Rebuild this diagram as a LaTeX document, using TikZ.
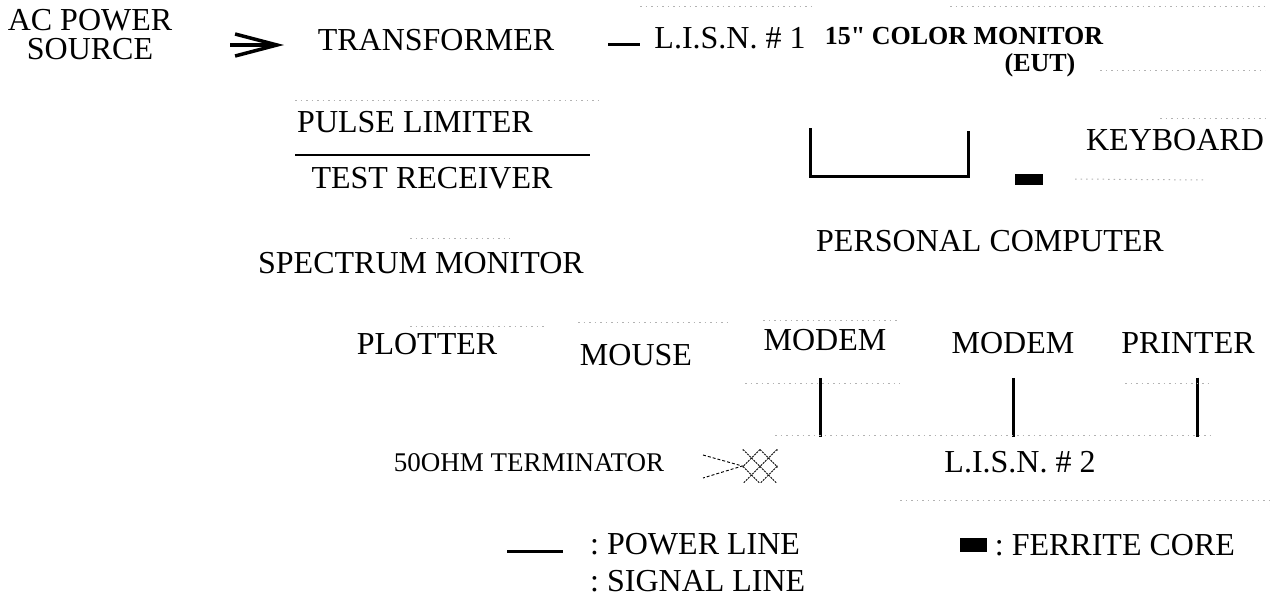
\documentclass[tikz,border=0pt]{standalone}
\usepackage{fontspec}
\setmainfont{Liberation Serif}[Ligatures=TeXOff]
\usetikzlibrary{arrows.meta,positioning}
\frenchspacing

\begin{document}
\begin{tikzpicture}[x=1pt,y=-1pt,
lbl/.style={inner sep=0pt,font=\fontsize{32}{32}\selectfont},
small/.style={inner sep=0pt,font=\fontsize{27}{28}\selectfont},
boldlbl/.style={inner sep=0pt,font=\fontsize{26}{27}\selectfont\bfseries},
power/.style={line width=3pt},
signal/.style={gray!60,line width=1pt,dash pattern=on 1.5pt off 4pt},
arrow/.style={-{Straight Barb[length=42pt,width=22pt]},line width=3.5pt},
ferrite/.style={fill=black,inner sep=0pt,minimum width=28pt,minimum height=11pt}
]
\useasboundingbox (0,0) rectangle (1272,598);
% top row
\node[lbl,align=center] (acsrc) at (90,35) {AC POWER\\[-3pt]SOURCE};
\node[lbl] (xfmr) at (436,40) {TRANSFORMER};
\node[lbl] (lisn1) at (730,38) {L.I.S.N. \# 1};
\node[boldlbl] (eut) at (964,36) {15" COLOR MONITOR};
\node[boldlbl,below=8pt of eut.south,xshift=76pt] (euttag) {(EUT)};
% receiver side
\node[lbl] (limiter) at (415,122) {PULSE LIMITER};
\node[lbl] (rcvr) at (432,178) {TEST RECEIVER};
\node[lbl] (specmon) at (421,263) {SPECTRUM MONITOR};
\node[lbl] (plotter) at (427,344) {PLOTTER};
\node[lbl] (mouse) at (636,355) {MOUSE};
% EUT side
\node[lbl] (kbd) at (1175,140) {KEYBOARD};
\node[ferrite] (core) at (1029,179) {};
\node[lbl] (pc) at (990,241) {PERSONAL COMPUTER};
\node[lbl] (modem1) at (825,340) {MODEM};
\node[lbl] (modem2) at (1013,343) {MODEM};
\node[lbl] (printer) at (1188,343) {PRINTER};
\node[lbl] (lisn2) at (1020,462) {L.I.S.N. \# 2};
% terminator
\node[small] (termlbl) at (529,463) {50OHM TERMINATOR};
\node[inner sep=0pt,minimum width=35pt,minimum height=33pt,
  path picture={
    \foreach \d in {-34,-17,...,34}{
      \draw[line width=0.8pt,dash pattern=on 2pt off 1pt]
        ([xshift=\d pt]path picture bounding box.north) -- ++(34pt,-34pt)
        ([xshift=\d pt]path picture bounding box.north) -- ++(-34pt,-34pt);
    }}] (term) at (760,466) {};
\coordinate (tp1) at (703,455);
\coordinate (tp2) at (703,478);
\draw[line width=0.9pt,dash pattern=on 3pt off 2pt] (tp1) -- (term.west) -- (tp2);
% power connections
\coordinate (a1) at (230,45);
\coordinate (a2) at (284,45);
\draw[arrow] (a1) -- (a2);
\coordinate (p1) at (608,44);
\coordinate (p2) at (640,44);
\draw[power] (p1) -- (p2);
\coordinate (b1) at (810,128);
\coordinate (b2) at (968,131);
\draw[power] (b1) -- (b1 |- 0,176) -- (b2 |- 0,176) -- (b2);
\draw[line width=1.2pt] (295,155) -- (590,155);
\draw[power] (modem1.south -| 820,0) ++(0,27) -- (820,437);
\draw[power] (modem2.south -| 1013,0) ++(0,24) -- (1013,437);
\draw[power] (printer.south -| 1197,0) ++(0,24) -- (1197,437);
% signal lines (faint)
\draw[signal] (640,6) -- (815,6);
\draw[signal] (950,6) -- (1265,6);
\draw[signal] (1100,70) -- (1265,70);
\draw[signal] (1160,118) -- (1265,118);
\draw[signal] (295,100) -- (600,100);
\draw[signal] (core.east) ++(32,0) -- (1205,180);
\draw[signal] (410,238) -- (510,238);
\draw[signal] (410,326) -- (545,326);
\draw[signal] (578,322) -- (730,322);
\draw[signal] (763,320) -- (897,320);
\draw[signal] (745,383) -- (900,383);
\draw[signal] (1125,383) -- (1210,383);
\draw[signal] (775,435) -- (1210,435);
\draw[signal] (900,500) -- (1270,500);
% legend
\coordinate (lg1) at (507,551);
\coordinate (lg2) at (563,551);
\draw[power] (lg1) -- (lg2);
\node[lbl,anchor=west] (lgpower) at (590,544) {: POWER LINE};
\node[lbl,anchor=west] (lgsignal) at (590,581) {: SIGNAL LINE};
\node[ferrite,minimum width=27pt,minimum height=14pt] (lgcore) at (973,545) {};
\node[lbl,right=8pt of lgcore] (lgcoretxt) {: FERRITE CORE};
\end{tikzpicture}
\end{document}
